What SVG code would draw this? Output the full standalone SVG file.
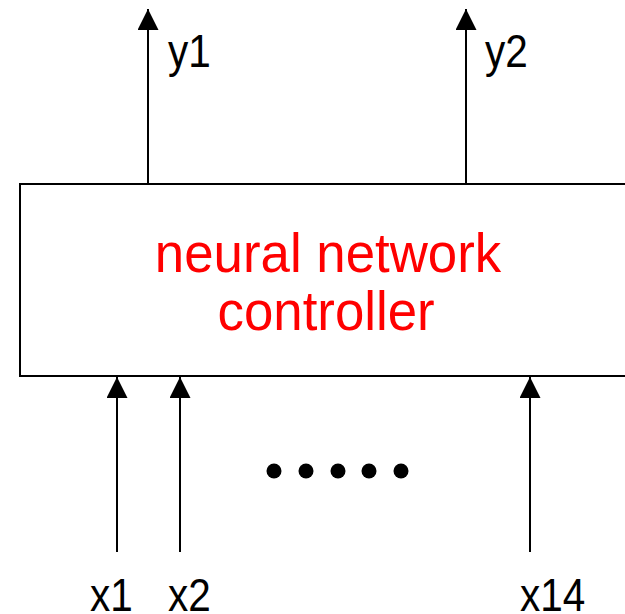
<svg xmlns="http://www.w3.org/2000/svg" width="625" height="614" viewBox="0 0 625 614">
  <style>
    .wire { stroke: #000; stroke-width: 2; fill: none; }
    .box { stroke: #000; stroke-width: 2; fill: #fff; }
    .lbl { font-family: "Liberation Sans", Arial, sans-serif; font-size: 46px; fill: #000; }
    .title { font-family: "Liberation Sans", Arial, sans-serif; font-size: 55px; fill: #ff0000; text-anchor: middle; }
  </style>
  <defs>
    <marker id="head" viewBox="0 -10.5 21 21" refX="21" refY="0" markerWidth="21" markerHeight="21" markerUnits="userSpaceOnUse" orient="auto">
      <path d="M0,-10.5 L21,0 L0,10.5 z" fill="#000"/>
    </marker>
  </defs>
  <rect width="625" height="614" fill="#fff"/>

  <g id="controller">
    <rect class="box" x="20" y="184" width="640" height="192"/>
    <g transform="translate(328,272) scale(0.96,1)">
      <text class="title" x="0" y="0">neural network</text>
      <text class="title" x="-2" y="58">controller</text>
    </g>
  </g>

  <g id="connectors">
    <line class="wire" x1="148" y1="184" x2="148" y2="9" marker-end="url(#head)"/>
    <line class="wire" x1="466" y1="184" x2="466" y2="9" marker-end="url(#head)"/>
    <line class="wire" x1="117" y1="552" x2="117" y2="377" marker-end="url(#head)"/>
    <line class="wire" x1="180" y1="552" x2="180" y2="377" marker-end="url(#head)"/>
    <line class="wire" x1="530" y1="552" x2="530" y2="377" marker-end="url(#head)"/>
  </g>

  <g id="outputs">
    <text class="lbl" transform="translate(168,67) scale(0.88,1)">y1</text>
    <text class="lbl" transform="translate(485,67) scale(0.88,1)">y2</text>
  </g>

  <g id="inputs">
    <text class="lbl" transform="translate(90,611) scale(0.88,1)">x1</text>
    <text class="lbl" transform="translate(168,611) scale(0.88,1)">x2</text>
    <text class="lbl" transform="translate(520,611) scale(0.88,1)">x14</text>
  </g>

  <g id="ellipsis" fill="#000">
    <circle cx="274" cy="471" r="7.5"/>
    <circle cx="306" cy="471" r="7.5"/>
    <circle cx="338" cy="471" r="7.5"/>
    <circle cx="369" cy="471" r="7.5"/>
    <circle cx="401" cy="471" r="7.5"/>
  </g>
</svg>
